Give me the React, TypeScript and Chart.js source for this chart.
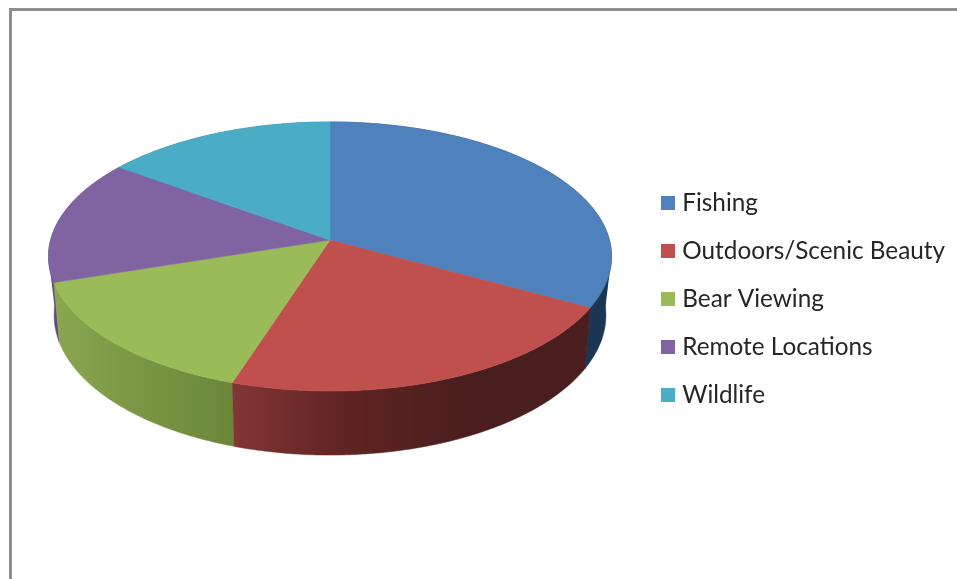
import React, { useEffect, useRef } from "react";
import { Chart, registerables } from "chart.js";

Chart.register(...registerables);

const categories = ["Fishing", "Outdoors/Scenic Beauty", "Bear Viewing", "Remote Locations", "Wildlife"];
const shares = [33, 22, 15, 15, 15];
const topColors = ["#4f81bd", "#c0504d", "#9bbb59", "#8064a2", "#4bacc6"];
// Side wall shades, ordered from the slice's clockwise start to its end.
const wallShades: [number, string][][] = [
  [[0, "#1b3555"], [1, "#1b3555"]],
  [[0, "#4a1e1e"], [0.35, "#4a1e1e"], [0.7, "#622424"], [1, "#823636"]],
  [[0, "#6b8639"], [0.5, "#7a9644"], [1, "#8aa64e"]],
  [[0, "#5f4a80"], [1, "#5f4a80"]],
  [[0, "#2d7f95"], [1, "#2d7f95"]],
];
const wallOrder = [4, 0, 3, 2, 1];

// Perspective view of the pie disc.
const CX = 330, CY = 240, K = -0.1227, RX = 279.4, RY = 132.5;
const project = (a: number) => {
  const u = Math.cos(a), v = Math.sin(a), w = 1 + K * v;
  return { x: CX + (RX * u) / w, y: CY + (RY * v) / w };
};
const lower = (a: number) => {
  const p = project(a);
  return { x: CX + (p.x - CX) * 0.98, y: CY + (p.y - CY) * 1.04 + 58 };
};
const angleSteps = (s: number, e: number) => {
  const n = Math.max(4, Math.ceil((e - s) / 0.01));
  return Array.from({ length: n + 1 }, (_, i) => s + ((e - s) * i) / n);
};
const EDGE = Math.asin(-K);
const TANGENT = 0.3;

const boxIcon = (color: string) => {
  const c = document.createElement("canvas");
  c.width = 14;
  c.height = 14;
  const g = c.getContext("2d")!;
  g.fillStyle = color;
  g.fillRect(0, 0, 14, 14);
  return c;
};

const pie3d = {
  id: "pie3d",
  beforeDraw(chart: any) {
    const { ctx } = chart;
    ctx.save();
    ctx.fillStyle = "#ffffff";
    ctx.fillRect(0, 0, chart.width, chart.height);
    ctx.fillStyle = "#8e8e8e";
    ctx.fillRect(9, 8, chart.width - 9, 3);
    ctx.fillRect(9, 8, 3, chart.height - 8);
    ctx.restore();
  },
  beforeDatasetDraw(chart: any, args: any) {
    const { ctx } = chart;
    const arcs = chart.getDatasetMeta(args.index).data;
    ctx.save();
    // Silhouette edges: the wall's straight sides at the disc's far left and right.
    const hull = (i: number, edge: number, tangent: number, boundary: number) => {
      const t = project(edge), l = lower(tangent), b = project(boundary), lb = lower(boundary);
      ctx.beginPath();
      ctx.moveTo(t.x, t.y);
      ctx.lineTo(l.x, l.y);
      ctx.lineTo(lb.x, lb.y);
      ctx.lineTo(b.x, b.y);
      ctx.closePath();
      ctx.fillStyle = wallShades[i][0][1];
      ctx.fill();
    };
    wallOrder.forEach((i) => {
      const arc = arcs[i];
      const pts = angleSteps(arc.startAngle, arc.endAngle);
      const a = project(arc.startAngle), b = project(arc.endAngle);
      const grad = ctx.createLinearGradient(a.x, 0, b.x === a.x ? a.x + 1 : b.x, 0);
      wallShades[i].forEach(([o, c]) => grad.addColorStop(o, c));
      ctx.beginPath();
      pts.forEach((t, j) => {
        const p = project(t);
        if (j === 0) ctx.moveTo(p.x, p.y);
        else ctx.lineTo(p.x, p.y);
      });
      [...pts].reverse().forEach((t) => {
        const p = lower(t);
        ctx.lineTo(p.x, p.y);
      });
      ctx.closePath();
      ctx.fillStyle = grad;
      ctx.strokeStyle = grad;
      ctx.lineWidth = 0.5;
      ctx.fill();
      ctx.stroke();
      // The slices that hold the disc's two side edges also get the straight silhouette.
      const wrap = (x: number) => (x < arc.startAngle ? x + Math.PI * 2 : x);
      if (wrap(EDGE) <= arc.endAngle) hull(i, wrap(EDGE), wrap(TANGENT), arc.endAngle);
      if (wrap(Math.PI - EDGE) <= arc.endAngle) hull(i, wrap(Math.PI - EDGE), wrap(Math.PI - TANGENT), arc.startAngle);
    });
    arcs.forEach((arc: any, i: number) => {
      ctx.beginPath();
      ctx.moveTo(CX, CY);
      angleSteps(arc.startAngle, arc.endAngle).forEach((t) => {
        const p = project(t);
        ctx.lineTo(p.x, p.y);
      });
      ctx.closePath();
      ctx.fillStyle = topColors[i];
      ctx.strokeStyle = topColors[i];
      ctx.lineWidth = 0.6;
      ctx.fill();
      ctx.stroke();
    });
    ctx.restore();
    return false;
  },
};

export default function App() {
  const ref = useRef<HTMLCanvasElement>(null);
  useEffect(() => {
    document.body.style.margin = "0";
    const chart = new Chart(ref.current!, {
      type: "pie",
      data: {
        labels: categories,
        datasets: [{ data: shares, backgroundColor: topColors, borderWidth: 0 }],
      },
      plugins: [pie3d],
      options: {
        animation: false,
        responsive: false,
        layout: { padding: { top: 19, right: 2 } },
        plugins: {
          tooltip: { enabled: false },
          legend: {
            position: "right",
            labels: {
              usePointStyle: true,
              boxWidth: 4,
              padding: 23.7,
              color: "#262626",
              font: { family: "Lato", size: 24.3 },
              generateLabels(c: any) {
                const base = (Chart as any).overrides.pie.plugins.legend.labels.generateLabels(c);
                return base.map((it: any, i: number) => ({ ...it, pointStyle: boxIcon(topColors[i]) }));
              },
            },
          },
        },
      },
    } as any);
    return () => chart.destroy();
  }, []);
  return <canvas ref={ref} width={957} height={579} style={{ display: "block" }} />;
}
